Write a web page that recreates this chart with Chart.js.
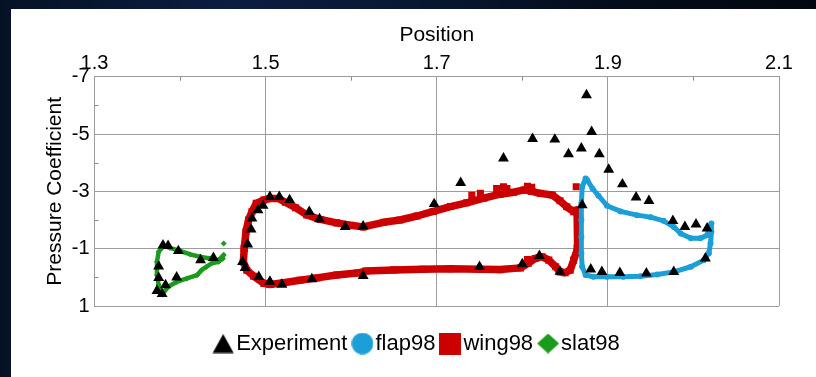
<!DOCTYPE html>
<html>
<head>
<meta charset="utf-8">
<script src="https://cdn.jsdelivr.net/npm/chart.js@4.4.1/dist/chart.umd.min.js"></script>
<style>
  html, body { margin: 0; padding: 0; width: 816px; height: 377px; overflow: hidden; }
  body {
    position: relative;
    background: linear-gradient(90deg, #051226 0%, #0b1d40 28%, #081833 50%, #040c1b 75%, #02070f 100%);
  }
  #panel { position: absolute; left: 11px; top: 9px; right: 0; bottom: 0; background: #ffffff; }
  #wrap { position: absolute; left: 0; top: 0; width: 816px; height: 377px; }
</style>
</head>
<body>
<div id="panel"></div>
<div id="wrap"><canvas id="cp"></canvas></div>
<script>
// ---- Pressure coefficient data (position along chord, Cp) ----

// Wind-tunnel measurements
const expX = [
  1.380, 1.386, 1.398, 1.424, 1.439, 1.375, 1.375, 1.396, 1.383, 1.373, 1.379,
  1.473, 1.476, 1.479, 1.483, 1.484, 1.491, 1.497, 1.505, 1.516, 1.528, 1.551,
  1.563, 1.593, 1.614, 1.697, 1.728, 1.778, 1.812, 1.838, 1.854, 1.869, 1.870,
  1.492, 1.505, 1.519, 1.554, 1.614, 1.750, 1.800, 1.820, 1.844,
  1.875, 1.881, 1.890, 1.901, 1.917, 1.933, 1.948, 1.976, 1.990, 2.003, 2.016,
  2.014, 1.880, 1.893, 1.914, 1.945, 1.977
];
const expCp = [
  -1.12, -1.10, -0.92, -0.60, -0.68, -0.38, 0.02, 0.00, 0.27, 0.47, 0.58,
  -0.54, -0.33, -1.15, -1.67, -2.06, -2.35, -2.50, -2.81, -2.81, -2.70, -2.29,
  -2.03, -1.76, -1.78, -2.56, -3.30, -4.15, -4.83, -4.81, -4.30, -4.50, -2.52,
  -0.02, 0.15, 0.25, 0.06, -0.05, -0.37, -0.46, -0.75, -0.20,
  -6.36, -5.08, -4.30, -3.76, -3.25, -2.79, -2.67, -1.97, -1.76, -1.85, -1.71,
  -0.66, -0.28, -0.19, -0.16, -0.14, -0.19
];

// Flap surface, traced round from the trailing edge over the upper side
const flapX = [
  2.020, 2.016, 2.008, 1.997, 1.985, 1.977, 1.965, 1.950, 1.934, 1.915, 1.899,
  1.889, 1.882, 1.876, 1.874, 1.870, 1.869, 1.869, 1.869, 1.869, 1.870, 1.874,
  1.883, 1.899, 1.918, 1.938, 1.958, 1.977, 1.997, 2.012, 2.018, 2.020, 2.021,
  2.021
];
const flapCp = [
  -1.82, -1.47, -1.36, -1.36, -1.53, -1.76, -1.97, -2.10, -2.17, -2.30, -2.50,
  -2.85, -3.10, -3.39, -3.45, -3.16, -2.58, -2.00, -1.42, -0.84, -0.37, -0.08,
  -0.02, -0.02, -0.02, -0.04, -0.10, -0.19, -0.37, -0.60, -0.84, -1.19, -1.59,
  -1.88
];

// Main element surface, upper side first, then back along the lower side
const wingX = [
  1.475, 1.477, 1.480, 1.484, 1.489, 1.498, 1.505, 1.515, 1.523, 1.535, 1.548,
  1.564, 1.583, 1.599, 1.614, 1.638, 1.657, 1.677, 1.696, 1.716, 1.735, 1.755,
  1.774, 1.790, 1.802, 1.811, 1.821, 1.835, 1.844, 1.852, 1.860, 1.864,
  1.865, 1.865, 1.864, 1.860, 1.856, 1.850, 1.844, 1.839, 1.831, 1.823, 1.815,
  1.807, 1.798, 1.774, 1.751, 1.716, 1.683, 1.650, 1.617, 1.607, 1.583, 1.560,
  1.540, 1.521, 1.505, 1.498, 1.486, 1.478, 1.474, 1.475
];
const wingCp = [
  -1.01, -1.59, -2.00, -2.29, -2.58, -2.70, -2.75, -2.75, -2.62, -2.43, -2.18,
  -2.02, -1.90, -1.82, -1.76, -1.92, -2.00, -2.14, -2.30, -2.47, -2.60, -2.76,
  -2.90, -2.97, -3.05, -3.00, -2.93, -2.87, -2.67, -2.46, -2.29, -2.35,
  -1.76, -1.47, -1.01, -0.60, -0.25, -0.16, -0.19, -0.37, -0.60, -0.72, -0.66,
  -0.49, -0.33, -0.27, -0.28, -0.30, -0.28, -0.26, -0.22, -0.15, -0.08, 0.02,
  0.10, 0.19, 0.25, 0.21, -0.04, -0.25, -0.54, -1.01
];
// scattered main-element samples off the traced surface
const wingLooseX = [1.741, 1.751, 1.770, 1.778, 1.782, 1.806, 1.811, 1.863, 1.806];
const wingLooseCp = [-2.86, -2.93, -3.10, -3.16, -3.10, -3.18, -3.14, -3.16, -0.62];

// Slat surface
const slatX = [
  1.451, 1.445, 1.435, 1.423, 1.412, 1.400, 1.388, 1.381, 1.375, 1.373, 1.373,
  1.375, 1.379, 1.386, 1.396, 1.408, 1.420, 1.425, 1.431, 1.437, 1.445, 1.450
];
const slatCp = [
  -0.78, -0.60, -0.66, -0.72, -0.80, -0.92, -1.03, -1.10, -0.89, -0.54, -0.08,
  0.27, 0.60, 0.33, 0.16, 0.04, -0.08, -0.25, -0.37, -0.49, -0.54, -0.66
];
const slatLooseX = [1.451];
const slatLooseCp = [-1.18];

// Axis labelling
const xTickValues = [1.3, 1.5, 1.7, 1.9, 2.1];
const xTickLabels = ['1.3', '1.5', '1.7', '1.9', '2.1'];
const yTickValues = [-7, -5, -3, -1, 1];
const yTickLabels = ['-7', '-5', '-3', '-1', '1'];
const seriesNames = ['Experiment', 'flap98', 'wing98', 'slat98'];

// ---- styling ----
const BLACK = '#000000';
const BLUE = '#1b9fd6';
const RED = '#cc0000';
const GREEN = '#1b9b1b';
const GRID = '#9c9c9c';

Chart.defaults.font.family = "'Liberation Sans', Arial, Helvetica, sans-serif";
Chart.defaults.color = '#000';

const pts = (xs, ys) => xs.map((x, i) => ({ x: x, y: ys[i] }));
const labelIndex = (vals, v) => vals.findIndex(t => Math.abs(t - v) < 1e-6);

// Legend markers drawn on small canvases
function icon(kind, color) {
  const c = document.createElement('canvas');
  c.width = 22; c.height = (kind === 'triangle' || kind === 'diamond') ? 20 : 22;
  const g = c.getContext('2d');
  g.fillStyle = color;
  g.beginPath();
  if (kind === 'triangle') {
    g.moveTo(11, 0.5); g.lineTo(21.5, 19.5); g.lineTo(0.5, 19.5);
  } else if (kind === 'circle') {
    g.arc(11, 11, 10.8, 0, Math.PI * 2);
  } else if (kind === 'square') {
    g.rect(0, 0, 22, 22);
  } else {
    g.moveTo(11, 0); g.lineTo(22, 10); g.lineTo(11, 20); g.lineTo(0, 10);
  }
  g.closePath();
  g.fill();
  return c;
}
const legendIcons = [icon('triangle', BLACK), icon('circle', BLUE), icon('square', RED), icon('diamond', GREEN)];

// short inward tick marks at the unlabelled steps
const minorTicks = {
  id: 'minorTicks',
  afterDraw(chart) {
    const { ctx, chartArea: a } = chart;
    const sx = chart.scales.x, sy = chart.scales.y;
    ctx.save();
    ctx.strokeStyle = '#8a8a8a';
    ctx.lineWidth = 1;
    sx.ticks.forEach((t, i) => {
      if (labelIndex(xTickValues, t.value) >= 0) return;
      const px = Math.round(sx.getPixelForTick(i)) + 0.5;
      ctx.beginPath(); ctx.moveTo(px, a.top); ctx.lineTo(px, a.top + 4); ctx.stroke();
    });
    sy.ticks.forEach((t, i) => {
      if (labelIndex(yTickValues, t.value) >= 0) return;
      const py = Math.round(sy.getPixelForTick(i)) + 0.5;
      ctx.beginPath(); ctx.moveTo(a.left, py); ctx.lineTo(a.left + 4, py); ctx.stroke();
    });
    ctx.restore();
  }
};

const surface = (label, xs, ys, color, style, radius, width, line) => ({
  label: label,
  data: pts(xs, ys),
  showLine: line,
  borderColor: color,
  backgroundColor: color,
  borderWidth: width,
  borderJoinStyle: 'round',
  borderCapStyle: 'round',
  pointStyle: style,
  pointRadius: radius,
  pointBorderWidth: 0,
  pointBackgroundColor: color,
  pointHoverRadius: radius
});

new Chart(document.getElementById('cp'), {
  type: 'scatter',
  data: {
    datasets: [
      {
        label: seriesNames[0],
        data: pts(expX, expCp),
        pointStyle: 'triangle',
        pointRadius: 6.3,
        pointBorderWidth: 0,
        backgroundColor: BLACK,
        borderColor: BLACK,
        showLine: false
      },
      surface(seriesNames[1], flapX, flapCp, BLUE, 'circle', 3, 5, true),
      surface(seriesNames[2], wingX, wingCp, RED, 'rect', 5, 7.5, true),
      surface(seriesNames[2] + ' loose', wingLooseX, wingLooseCp, RED, 'rect', 5, 0, false),
      surface(seriesNames[3], slatX, slatCp, GREEN, 'rectRot', 3, 4.5, true),
      surface(seriesNames[3] + ' loose', slatLooseX, slatLooseCp, GREEN, 'rectRot', 3, 0, false)
    ]
  },
  options: {
    responsive: true,
    maintainAspectRatio: false,
    devicePixelRatio: 1,
    animation: false,
    events: [],
    layout: { padding: { left: 25, right: 0, top: 0, bottom: 12.5 } },
    scales: {
      x: {
        type: 'linear',
        position: 'top',
        min: 1.3,
        max: 2.1,
        ticks: {
          stepSize: 0.1,
          autoSkip: false,
          maxRotation: 0,
          padding: 1,
          font: { size: 20 },
          color: '#000',
          callback: v => { const k = labelIndex(xTickValues, v); return k >= 0 ? xTickLabels[k] : ''; }
        },
        grid: {
          drawTicks: false,
          lineWidth: 1,
          color: c => (c.tick && labelIndex(xTickValues, c.tick.value) >= 0) ? GRID : 'rgba(0,0,0,0)'
        },
        border: { color: GRID, width: 1 },
        title: { display: true, text: 'Position', font: { size: 21 }, color: '#000', padding: { top: 23, bottom: 0 } },
        afterFit: s => { s.height = 76.7; }
      },
      y: {
        type: 'linear',
        position: 'left',
        reverse: true,
        min: -7,
        max: 1,
        ticks: {
          stepSize: 1,
          autoSkip: false,
          padding: 5,
          font: { size: 20 },
          color: '#000',
          callback: v => { const k = labelIndex(yTickValues, v); return k >= 0 ? yTickLabels[k] : ''; }
        },
        grid: {
          drawTicks: false,
          lineWidth: 1,
          color: c => (c.tick && labelIndex(yTickValues, c.tick.value) >= 0) ? GRID : 'rgba(0,0,0,0)'
        },
        border: { color: GRID, width: 1 },
        title: { display: true, text: 'Pressure Coefficient', font: { size: 21 }, color: '#000', padding: { top: 18, bottom: 0 } },
        afterFit: s => { s.width = 69.5; }
      },
      // spacer on the right-hand side of the plot
      yRight: {
        type: 'linear',
        position: 'right',
        display: true,
        grid: { display: false, drawTicks: false },
        border: { display: false },
        ticks: { display: false },
        afterFit: s => { s.width = 37; }
      }
    },
    plugins: {
      tooltip: { enabled: false },
      legend: {
        display: true,
        position: 'bottom',
        title: { display: true, text: ' ', font: { size: 10 }, padding: { top: 1.5, bottom: 0 } },
        labels: {
          usePointStyle: true,
          pointStyleWidth: 4,
          padding: 13,
          color: '#000',
          font: { size: 22 },
          generateLabels: () => seriesNames.map((t, i) => ({
            text: t,
            pointStyle: legendIcons[i],
            fillStyle: 'rgba(0,0,0,0)',
            strokeStyle: 'rgba(0,0,0,0)',
            lineWidth: 0,
            hidden: false,
            fontColor: '#000',
            datasetIndex: i
          }))
        }
      }
    }
  },
  plugins: [minorTicks]
});
</script>
</body>
</html>
